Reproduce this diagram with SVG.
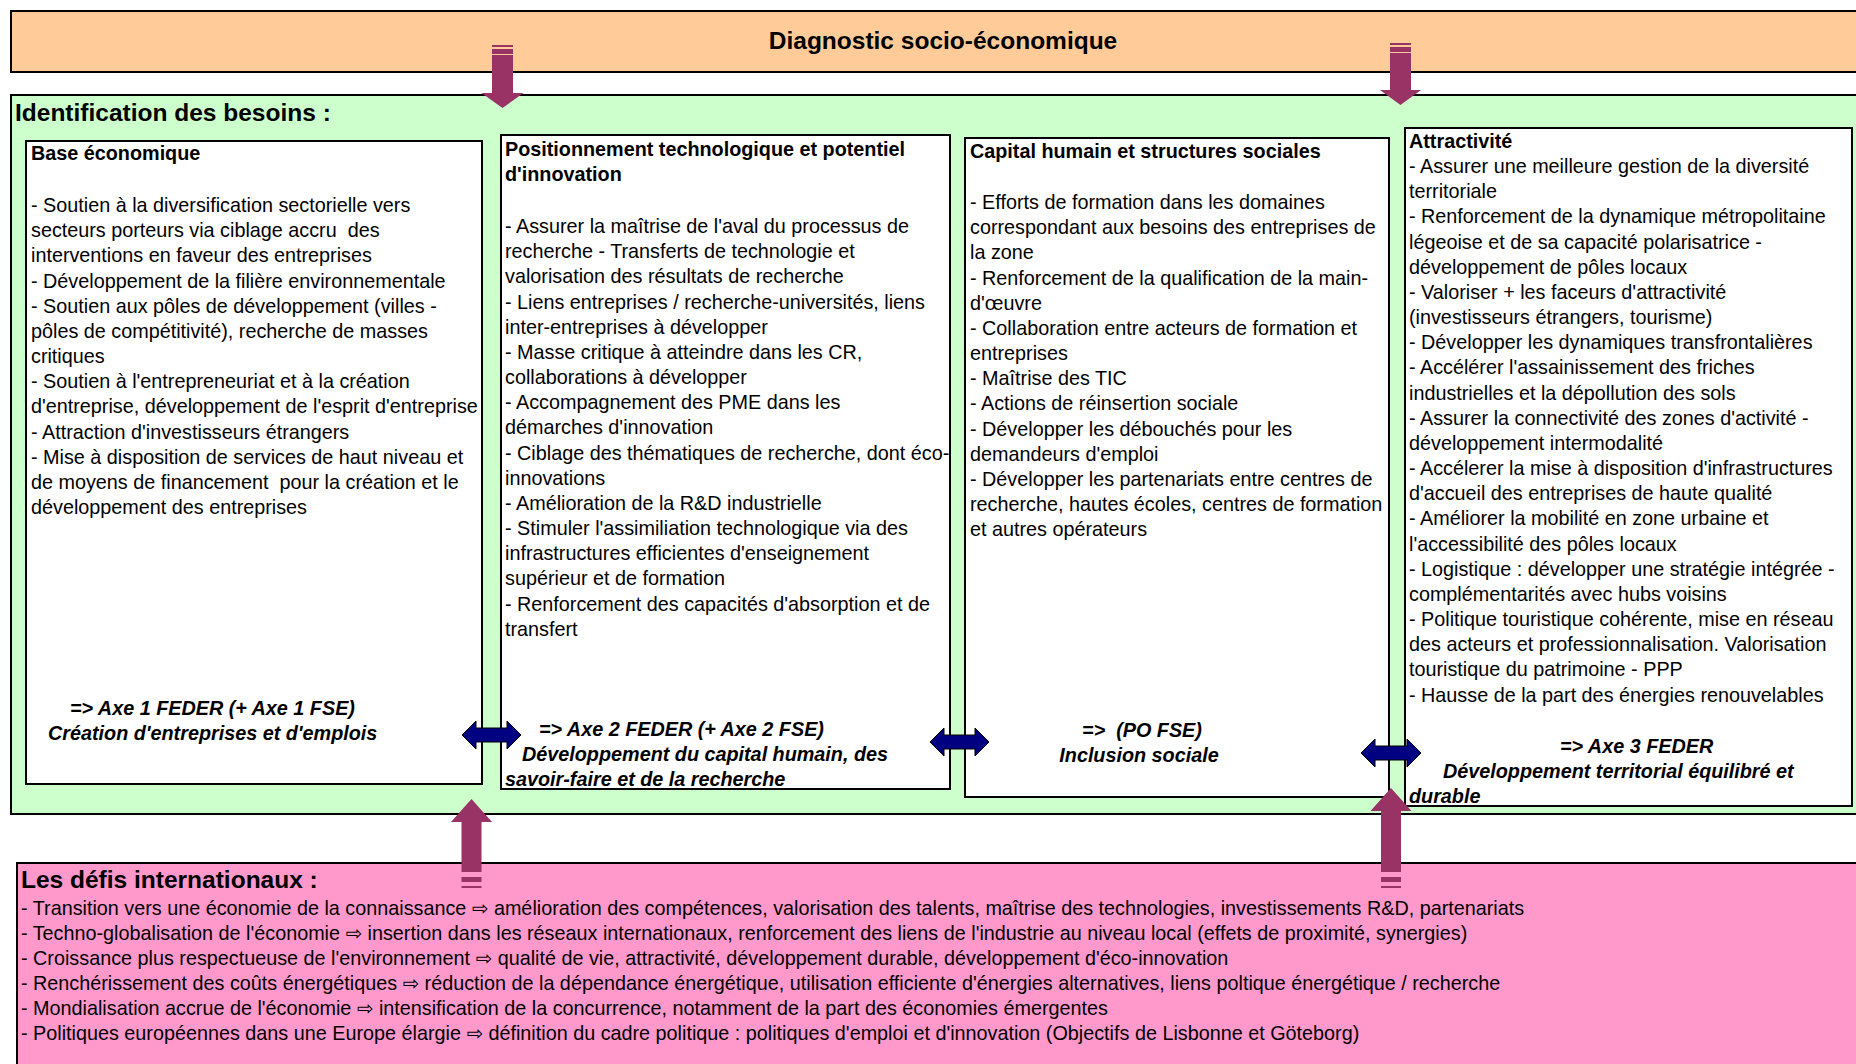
<svg xmlns="http://www.w3.org/2000/svg" width="1856" height="1064" viewBox="0 0 1856 1064">
  <style>
    .t { font-family: "Liberation Sans", Arial, "DejaVu Sans", sans-serif; font-size: 19.8px; fill: #000; }
    .b { font-weight: bold; }
    .bi { font-weight: bold; font-style: italic; }
    .h { font-size: 24.5px; font-weight: bold; }
    .panel { stroke: #000; stroke-width: 2; }
    .box { fill: #fff; stroke: #000; stroke-width: 2; }
    .pa { fill: #993366; }
    .da { fill: #000080; stroke: #000; stroke-width: 1; }
  </style>

  <!-- top band -->
  <g id="diagnostic">
    <rect class="panel" x="11" y="11" width="1860" height="61" fill="#FFCC99"/>
    <text class="t h" x="943" y="49" text-anchor="middle">Diagnostic socio-économique</text>
  </g>

  <!-- needs area -->
  <g id="besoins">
    <rect class="panel" x="11" y="95" width="1860" height="719" fill="#CCFFCC"/>
    <text class="t h" x="15" y="121">Identification des besoins :</text>
  </g>

  <g id="base-economique">
    <rect class="box" x="26" y="141" width="456" height="643"/>
    <text class="t b" x="31" y="160">Base économique</text>
    <text class="t" x="31" y="212">
      <tspan x="31" y="212">- Soutien à la diversification sectorielle vers</tspan>
      <tspan x="31" dy="25.17">secteurs porteurs via ciblage accru&#160; des</tspan>
      <tspan x="31" dy="25.17">interventions en faveur des entreprises</tspan>
      <tspan x="31" dy="25.17">- Développement de la filière environnementale</tspan>
      <tspan x="31" dy="25.17">- Soutien aux pôles de développement (villes -</tspan>
      <tspan x="31" dy="25.17">pôles de compétitivité), recherche de masses</tspan>
      <tspan x="31" dy="25.17">critiques</tspan>
      <tspan x="31" dy="25.17">- Soutien à l'entrepreneuriat et à la création</tspan>
      <tspan x="31" dy="25.17">d'entreprise, développement de l'esprit d'entreprise</tspan>
      <tspan x="31" dy="25.17">- Attraction d'investisseurs étrangers</tspan>
      <tspan x="31" dy="25.17">- Mise à disposition de services de haut niveau et</tspan>
      <tspan x="31" dy="25.17">de moyens de financement&#160; pour la création et le</tspan>
      <tspan x="31" dy="25.17">développement des entreprises</tspan>
    </text>
    <text class="t bi" x="70" y="715">=&gt; Axe 1 FEDER (+ Axe 1 FSE)</text>
    <text class="t bi" x="48" y="740">Création d'entreprises et d'emplois</text>
  </g>

  <g id="positionnement-technologique">
    <rect class="box" x="501" y="135" width="449" height="654"/>
    <text class="t b" x="505" y="156">
      <tspan x="505" y="156">Positionnement technologique et potentiel</tspan>
      <tspan x="505" dy="25.17">d'innovation</tspan>
    </text>
    <text class="t" x="505" y="233">
      <tspan x="505" y="233">- Assurer la maîtrise de l'aval du processus de</tspan>
      <tspan x="505" dy="25.17">recherche - Transferts de technologie et</tspan>
      <tspan x="505" dy="25.17">valorisation des résultats de recherche</tspan>
      <tspan x="505" dy="25.17">- Liens entreprises / recherche-universités, liens</tspan>
      <tspan x="505" dy="25.17">inter-entreprises à développer</tspan>
      <tspan x="505" dy="25.17">- Masse critique à atteindre dans les CR,</tspan>
      <tspan x="505" dy="25.17">collaborations à développer</tspan>
      <tspan x="505" dy="25.17">- Accompagnement des PME dans les</tspan>
      <tspan x="505" dy="25.17">démarches d'innovation</tspan>
      <tspan x="505" dy="25.17">- Ciblage des thématiques de recherche, dont éco-</tspan>
      <tspan x="505" dy="25.17">innovations</tspan>
      <tspan x="505" dy="25.17">- Amélioration de la R&amp;D industrielle</tspan>
      <tspan x="505" dy="25.17">- Stimuler l'assimiliation technologique via des</tspan>
      <tspan x="505" dy="25.17">infrastructures efficientes d'enseignement</tspan>
      <tspan x="505" dy="25.17">supérieur et de formation</tspan>
      <tspan x="505" dy="25.17">- Renforcement des capacités d'absorption et de</tspan>
      <tspan x="505" dy="25.17">transfert</tspan>
    </text>
    <text class="t bi" x="539" y="736">=&gt; Axe 2 FEDER (+ Axe 2 FSE)</text>
    <text class="t bi" x="522" y="761">Développement du capital humain, des</text>
    <text class="t bi" x="505" y="786">savoir-faire et de la recherche</text>
  </g>

  <g id="capital-humain">
    <rect class="box" x="965" y="138" width="424" height="659"/>
    <text class="t b" x="970" y="158">Capital humain et structures sociales</text>
    <text class="t" x="970" y="209">
      <tspan x="970" y="209">- Efforts de formation dans les domaines</tspan>
      <tspan x="970" dy="25.17">correspondant aux besoins des entreprises de</tspan>
      <tspan x="970" dy="25.17">la zone</tspan>
      <tspan x="970" dy="25.17">- Renforcement de la qualification de la main-</tspan>
      <tspan x="970" dy="25.17">d'œuvre</tspan>
      <tspan x="970" dy="25.17">- Collaboration entre acteurs de formation et</tspan>
      <tspan x="970" dy="25.17">entreprises</tspan>
      <tspan x="970" dy="25.17">- Maîtrise des TIC</tspan>
      <tspan x="970" dy="25.17">- Actions de réinsertion sociale</tspan>
      <tspan x="970" dy="25.17">- Développer les débouchés pour les</tspan>
      <tspan x="970" dy="25.17">demandeurs d'emploi</tspan>
      <tspan x="970" dy="25.17">- Développer les partenariats entre centres de</tspan>
      <tspan x="970" dy="25.17">recherche, hautes écoles, centres de formation</tspan>
      <tspan x="970" dy="25.17">et autres opérateurs</tspan>
    </text>
    <text class="t bi" x="1142" y="737" text-anchor="middle">=&gt;&#160; (PO FSE)</text>
    <text class="t bi" x="1139" y="762" text-anchor="middle">Inclusion sociale</text>
  </g>

  <g id="attractivite">
    <rect class="box" x="1405" y="128" width="447" height="678"/>
    <text class="t b" x="1409" y="148">Attractivité</text>
    <text class="t" x="1409" y="173">
      <tspan x="1409" y="173">- Assurer une meilleure gestion de la diversité</tspan>
      <tspan x="1409" dy="25.17">territoriale</tspan>
      <tspan x="1409" dy="25.17">- Renforcement de la dynamique métropolitaine</tspan>
      <tspan x="1409" dy="25.17">légeoise et de sa capacité polarisatrice -</tspan>
      <tspan x="1409" dy="25.17">développement de pôles locaux</tspan>
      <tspan x="1409" dy="25.17">- Valoriser + les faceurs d'attractivité</tspan>
      <tspan x="1409" dy="25.17">(investisseurs étrangers, tourisme)</tspan>
      <tspan x="1409" dy="25.17">- Développer les dynamiques transfrontalières</tspan>
      <tspan x="1409" dy="25.17">- Accélérer l'assainissement des friches</tspan>
      <tspan x="1409" dy="25.17">industrielles et la dépollution des sols</tspan>
      <tspan x="1409" dy="25.17">- Assurer la connectivité des zones d'activité -</tspan>
      <tspan x="1409" dy="25.17">développement intermodalité</tspan>
      <tspan x="1409" dy="25.17">- Accélerer la mise à disposition d'infrastructures</tspan>
      <tspan x="1409" dy="25.17">d'accueil des entreprises de haute qualité</tspan>
      <tspan x="1409" dy="25.17">- Améliorer la mobilité en zone urbaine et</tspan>
      <tspan x="1409" dy="25.17">l'accessibilité des pôles locaux</tspan>
      <tspan x="1409" dy="25.17">- Logistique : développer une stratégie intégrée -</tspan>
      <tspan x="1409" dy="25.17">complémentarités avec hubs voisins</tspan>
      <tspan x="1409" dy="25.17">- Politique touristique cohérente, mise en réseau</tspan>
      <tspan x="1409" dy="25.17">des acteurs et professionnalisation. Valorisation</tspan>
      <tspan x="1409" dy="25.17">touristique du patrimoine - PPP</tspan>
      <tspan x="1409" dy="25.17">- Hausse de la part des énergies renouvelables</tspan>
    </text>
    <text class="t bi" x="1560" y="753">=&gt; Axe 3 FEDER</text>
    <text class="t bi" x="1443" y="778">Développement territorial équilibré et</text>
    <text class="t bi" x="1409" y="803">durable</text>
  </g>

  <!-- international challenges band -->
  <g id="defis-internationaux">
    <rect class="panel" x="17" y="863" width="1860" height="220" fill="#FF99CC"/>
    <text class="t h" x="21" y="888">Les défis internationaux :</text>
    <text class="t" x="21" y="915">
      <tspan x="21" y="915">- Transition vers une économie de la connaissance ⇨ amélioration des compétences, valorisation des talents, maîtrise des technologies, investissements R&amp;D, partenariats</tspan>
      <tspan x="21" dy="24.9">- Techno-globalisation de l'économie ⇨ insertion dans les réseaux internationaux, renforcement des liens de l'industrie au niveau local (effets de proximité, synergies)</tspan>
      <tspan x="21" dy="24.9">- Croissance plus respectueuse de l'environnement ⇨ qualité de vie, attractivité, développement durable, développement d'éco-innovation</tspan>
      <tspan x="21" dy="24.9">- Renchérissement des coûts énergétiques ⇨ réduction de la dépendance énergétique, utilisation efficiente d'énergies alternatives, liens poltique énergétique / recherche</tspan>
      <tspan x="21" dy="24.9">- Mondialisation accrue de l'économie ⇨ intensification de la concurrence, notamment de la part des économies émergentes</tspan>
      <tspan x="21" dy="24.9">- Politiques européennes dans une Europe élargie ⇨ définition du cadre politique : politiques d'emploi et d'innovation (Objectifs de Lisbonne et Göteborg)</tspan>
    </text>
  </g>

  <!-- connectors -->
  <g id="connectors">
    <!-- striped arrows: diagnostic down to needs -->
    <g class="pa">
      <rect x="492" y="45" width="21" height="2"/>
      <rect x="492" y="49" width="21" height="5"/>
      <path d="M492 55 H513 V93 H523.5 L502.5 108 L481.5 93 H492 Z"/>
    </g>
    <g class="pa">
      <rect x="1390" y="43" width="21" height="2"/>
      <rect x="1390" y="47" width="21" height="5"/>
      <path d="M1390 53 H1411 V90 H1421 L1400.5 105 L1380 90 H1390 Z"/>
    </g>
    <!-- striped arrows: challenges up to needs -->
    <g class="pa">
      <path d="M461.5 872 V822 H451 L471.5 799 L492 822 H481.5 V872 Z"/>
      <rect x="461.5" y="877" width="20" height="5"/>
      <rect x="461.5" y="886" width="20" height="2"/>
    </g>
    <g class="pa">
      <path d="M1381 872 V811 H1370.5 L1391 788 L1411.5 811 H1401 V872 Z"/>
      <rect x="1381" y="877" width="20" height="5"/>
      <rect x="1381" y="886" width="20" height="2"/>
    </g>
    <!-- two-way arrows between themes -->
    <path class="da" d="M462 735 L476 721 V728 H507 V721 L521 735 L507 749 V742 H476 V749 Z"/>
    <path class="da" d="M930 742 L944 728 V735 H975 V728 L989 742 L975 756 V749 H944 V756 Z"/>
    <path class="da" d="M1361 753 L1375 739 V746 H1407 V739 L1421 753 L1407 767 V760 H1375 V767 Z"/>
  </g>
</svg>
